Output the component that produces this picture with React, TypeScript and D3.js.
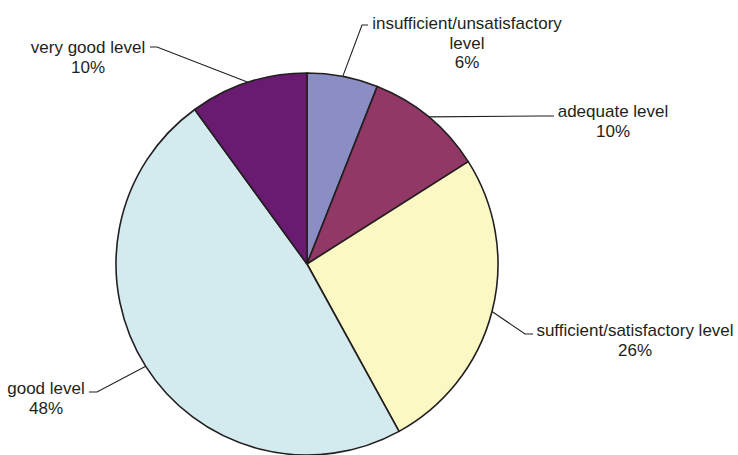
import React from "react";
import * as d3 from "d3";

const categories = [
  "insufficient/unsatisfactory level",
  "adequate level",
  "sufficient/satisfactory level",
  "good level",
  "very good level",
];
const values = [6, 10, 26, 48, 10];
const colors = ["#8A8EC4", "#923866", "#FCF8C4", "#D3EBEE", "#691A71"];

// label layout: elbow point, horizontal end, text centre, text lines
const labelLayout = [
  { elbow: [362, 25], end: [368, 25], tx: 467, ty: 23, lines: ["insufficient/unsatisfactory", "level"] },
  { elbow: [540, 116], end: [554, 116], tx: 613, ty: 111, lines: ["adequate level"] },
  { elbow: [525, 334], end: [533, 334], tx: 635, ty: 330, lines: ["sufficient/satisfactory level"] },
  { elbow: [97, 392], end: [89, 392], tx: 46, ty: 388, lines: ["good level"] },
  { elbow: [157, 47], end: [150, 47], tx: 88, ty: 47, lines: ["very good level"] },
];

const W = 738;
const H = 455;
const cx = 307;
const cy = 264;
const R = 191;
const FS = 17;
const LH = 19.5;

export default function App() {
  const pie = d3
    .pie<number>()
    .sort(null)
    .value((d) => d)
    .startAngle(0)
    .endAngle(2 * Math.PI);
  const arcs = pie(values);
  const arc = d3.arc<d3.PieArcDatum<number>>().innerRadius(0).outerRadius(R);

  return (
    <svg
      width={W}
      height={H}
      style={{ position: "absolute", left: 0, top: 0, background: "#fff" }}
      fontFamily="Liberation Sans, Arial, sans-serif"
    >
      <g transform={`translate(${cx},${cy})`}>
        {arcs.map((a, i) => (
          <path key={i} d={arc(a) || ""} fill={colors[i]} stroke="#231F20" strokeWidth={1.6} strokeLinejoin="round" />
        ))}
      </g>
      {arcs.map((a, i) => {
        const L = labelLayout[i];
        const mid = (a.startAngle + a.endAngle) / 2;
        const sx = cx + R * Math.sin(mid);
        const sy = cy - R * Math.cos(mid);
        const lines = [...L.lines, `${values[i]}%`];
        return (
          <g key={i}>
            <polyline
              points={`${sx},${sy} ${L.elbow[0]},${L.elbow[1]} ${L.end[0]},${L.end[1]}`}
              fill="none"
              stroke="#231F20"
              strokeWidth={1.1}
            />
            <text
              x={L.tx}
              y={L.ty}
              textAnchor="middle"
              fontSize={FS}
              fill="#231F20"
              dominantBaseline="central"
            >
              {lines.map((ln, j) => (
                <tspan key={j} x={L.tx} y={L.ty + j * LH}>
                  {ln}
                </tspan>
              ))}
            </text>
          </g>
        );
      })}
    </svg>
  );
}
